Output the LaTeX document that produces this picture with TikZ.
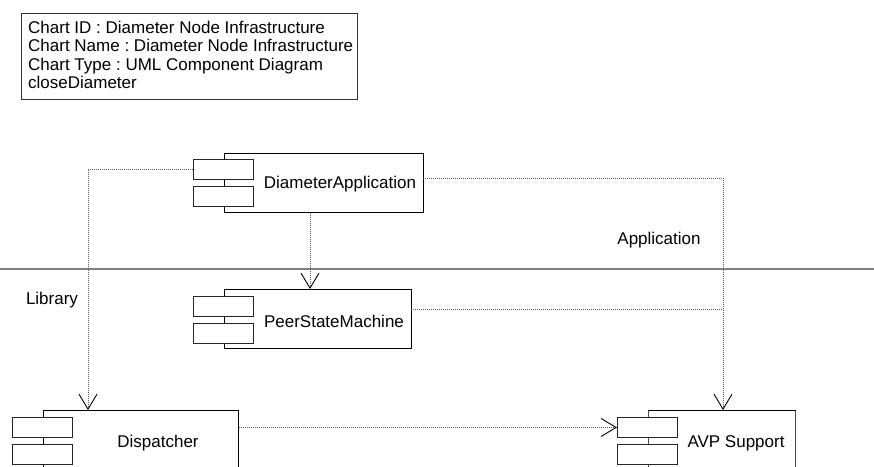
\documentclass[tikz,border=0pt]{standalone}
\usepackage{fontspec}
\setmainfont{Liberation Sans}
\usetikzlibrary{arrows.meta}
\frenchspacing
\begin{document}
\begin{tikzpicture}[x=1pt,y=-1pt,
  lbl/.style={font=\fontsize{17}{18.4}\selectfont, inner sep=0pt},
  comp/.style={draw=black, line width=0.9pt, fill=white, inner sep=0pt, anchor=north west},
  port/.style={draw=black!85, line width=0.9pt, fill=white, inner sep=0pt,
    minimum width=60pt, minimum height=20pt, anchor=north west},
  dep/.style={draw=black!65, line width=0.9pt, dash pattern=on 1pt off 1pt},
  tip/.style={-{Straight Barb[length=15pt,width=18pt,line width=0.9pt,black]}},
  layer/.style={draw=black!50, line width=1.4pt}
]
\useasboundingbox (0,0) rectangle (874,466);
\clip (0,0) rectangle (874,466);

% chart information box
\node[draw=black!80, line width=0.9pt, anchor=north west, minimum width=336pt,
  minimum height=86pt, inner sep=0pt] (info) at (21,13) {};
\node[lbl, align=left, anchor=west] (info-t) at (28,55)
  {Chart ID : Diameter Node Infrastructure\\
   Chart Name : Diameter Node Infrastructure\\
   Chart Type : UML Component Diagram\\
   closeDiameter};

% layer separator and layer names
\draw[layer] (0,269) -- (874,269);
\node[lbl] (app) at (659,240) {Application};
\node[lbl] (lib) at (52,300) {Library};

% components
\node[comp, minimum width=199pt, minimum height=59pt] (da) at (224,153) {};
\node[port] (da-p1) at (193,159) {};
\node[port] (da-p2) at (193,186) {};
\node[lbl] (da-t) at (340,184) {DiameterApplication};

\node[comp, minimum width=187pt, minimum height=59pt] (psm) at (224,289) {};
\node[port] (psm-p1) at (193,296) {};
\node[port] (psm-p2) at (193,323) {};
\node[lbl] (psm-t) at (334,321) {PeerStateMachine};

\node[comp, minimum width=195pt, minimum height=80pt] (disp) at (43,410) {};
\node[port] (disp-p1) at (12,417) {};
\node[port] (disp-p2) at (12,444) {};
\node[lbl] (disp-t) at (158,443) {Dispatcher};

\node[comp, draw=black!70, minimum width=147pt, minimum height=80pt] (avp) at (648,410) {};
\draw[black, line width=0.9pt] (avp.north west) -- (avp.north east);
\node[port] (avp-p1) at (617,417) {};
\node[port] (avp-p2) at (617,444) {};
\node[lbl] (avp-t) at (736,443) {AVP Support};

% connector end points
\coordinate (dispin) at (88,410);
\coordinate (daout) at (423,178);
\coordinate (avpin) at (723,410);
\coordinate (psmin) at (310,289);
\coordinate (psmout) at (411,309);
\coordinate (join) at (723,309);

% dependencies
\draw[dep, tip] (da-p1.west) -| (dispin);
\draw[dep, tip] (daout) -| (avpin);
\draw[dep, tip] (psmin |- da.south) -- (psmin);
\draw[dep] (psmout) -- (join);
\draw[dep, tip] (avp-p1.west -| disp.east) -- (avp-p1.west);
\end{tikzpicture}
\end{document}
